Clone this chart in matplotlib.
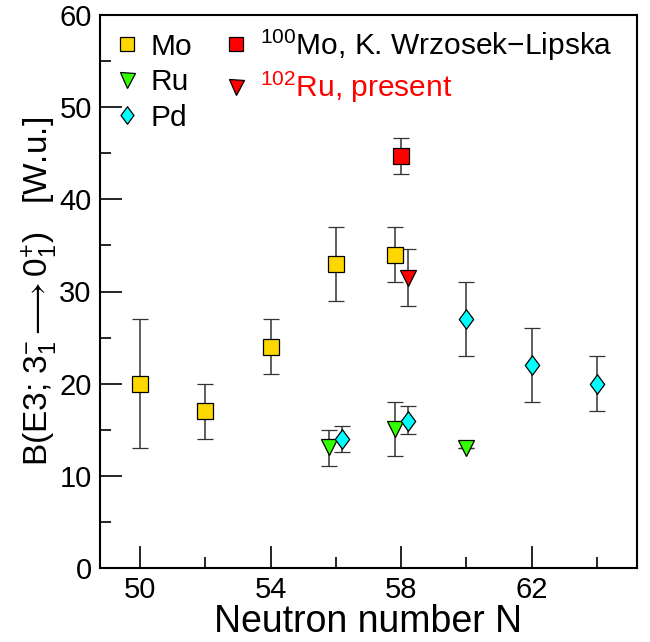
import matplotlib
matplotlib.use("Agg")
import matplotlib.pyplot as plt
import numpy as np
from matplotlib.path import Path

plt.rcParams['font.family'] = ['Liberation Sans', 'DejaVu Sans']
plt.rcParams['mathtext.fontset'] = 'custom'
plt.rcParams['mathtext.rm'] = 'Liberation Sans'
plt.rcParams['mathtext.it'] = 'Liberation Sans:italic'
plt.rcParams['mathtext.bf'] = 'Liberation Sans:bold'

# ---- data ----
mo_N = [50, 52, 54, 56, 58]
mo_B = [20, 17, 24, 33, 34]
mo_lo = [7, 3, 3, 4, 3]
mo_hi = [7, 3, 3, 4, 3]
mo_dx = [0, 0, 0, 0, -0.2]

ru_N = [56, 58, 60]
ru_B = [13.1, 15.1, 13.0]
ru_lo = [2.0, 3.0, 0.0]
ru_hi = [1.9, 2.9, 0.0]
ru_dx = [-0.2, -0.2, 0]

pd_N = [56, 58, 60, 62, 64]
pd_B = [14.0, 16.0, 27, 22, 20]
pd_lo = [1.4, 1.5, 4, 4, 3]
pd_hi = [1.4, 1.6, 4, 4, 3]
pd_dx = [0.2, 0.2, 0, 0, 0]

mo100_N = [58]
mo100_B = [44.7]
mo100_err = [2.0]
mo100_dx = [0]

ru102_N = [58]
ru102_B = [31.5]
ru102_err = [3.1]
ru102_dx = [0.2]

xticks_major = [50, 54, 58, 62]
xticks_minor = [52, 56, 60, 64]
yticks_major = [0, 10, 20, 30, 40, 50, 60]
yticks_minor = [5, 15, 25, 35, 45, 55]

diamond = Path([(0, 1), (0.74, 0), (0, -1), (-0.74, 0), (0, 1)],
               [Path.MOVETO, Path.LINETO, Path.LINETO, Path.LINETO, Path.CLOSEPOLY])

fig = plt.figure(figsize=(6.5, 6.42), dpi=100)
ax = fig.add_axes([100/650, 74/642, 537/650, 553/642])

ecol = '#333333'
common = dict(linestyle='none', ecolor=ecol, elinewidth=1.1, capsize=6, capthick=1.1,
              markeredgecolor='black', markeredgewidth=0.9)

def xs(N, dx):
    return np.array(N) + np.array(dx)

h_mo = ax.errorbar(xs(mo_N, mo_dx), mo_B, yerr=[mo_lo, mo_hi], marker='s', markersize=11,
                   markerfacecolor='#FFD700', **common)
ru_err = [np.array(ru_lo), np.array(ru_hi)]
h_ru = ax.errorbar(xs(ru_N, ru_dx), ru_B, yerr=ru_err, marker='v', markersize=12,
                   markerfacecolor='#33FF00', **common)
h_pd = ax.errorbar(xs(pd_N, pd_dx), pd_B, yerr=[pd_lo, pd_hi], marker=diamond, markersize=14,
                   markerfacecolor='#00FFFF', **common)
h_mo100 = ax.errorbar(xs(mo100_N, mo100_dx), mo100_B, yerr=mo100_err, marker='s', markersize=11,
                      markerfacecolor='#FF0000', **common)
h_ru102 = ax.errorbar(xs(ru102_N, ru102_dx), ru102_B, yerr=ru102_err, marker='v', markersize=12,
                      markerfacecolor='#FF0000', **common)

ax.set_xlim(48.77, 65.23)
ax.set_ylim(0, 60)
ax.set_xticks(xticks_major)
ax.set_xticks(xticks_minor, minor=True)
ax.set_yticks(yticks_major)
ax.set_yticks(yticks_minor, minor=True)
ax.tick_params(which='both', direction='in', labelsize=21, width=1.2, pad=6)
ax.tick_params(which='major', length=16)
ax.tick_params(which='minor', length=8)
for s in ax.spines.values():
    s.set_linewidth(1.5)

ax.set_xlabel('Neutron number N', fontsize=27, labelpad=0)
ax.set_ylabel(r'B(E3; $\mathregular{3_1^{-}}\longrightarrow\mathregular{0_1^{+}}$)   [W.u.]',
              fontsize=24)
ax.yaxis.set_label_coords(-0.075, 0.5)

handles = [h_mo[0], h_ru[0], h_pd[0], h_mo100[0], h_ru102[0]]
labels = ['Mo', 'Ru', 'Pd', r'$\mathregular{^{100}}$Mo, K. Wrzosek$-$Lipska', r'$\mathregular{^{102}}$Ru, present']
leg = ax.legend(handles, labels, ncol=2, loc='upper left', bbox_to_anchor=(0.0, 1.007),
                frameon=False, fontsize=21.5, handlelength=0.7, handletextpad=0.45,
                columnspacing=1.1, labelspacing=0.25, borderaxespad=0.15, markerscale=0.9)
leg.get_texts()[4].set_color('red')

fig.savefig('out.png', dpi=100)
